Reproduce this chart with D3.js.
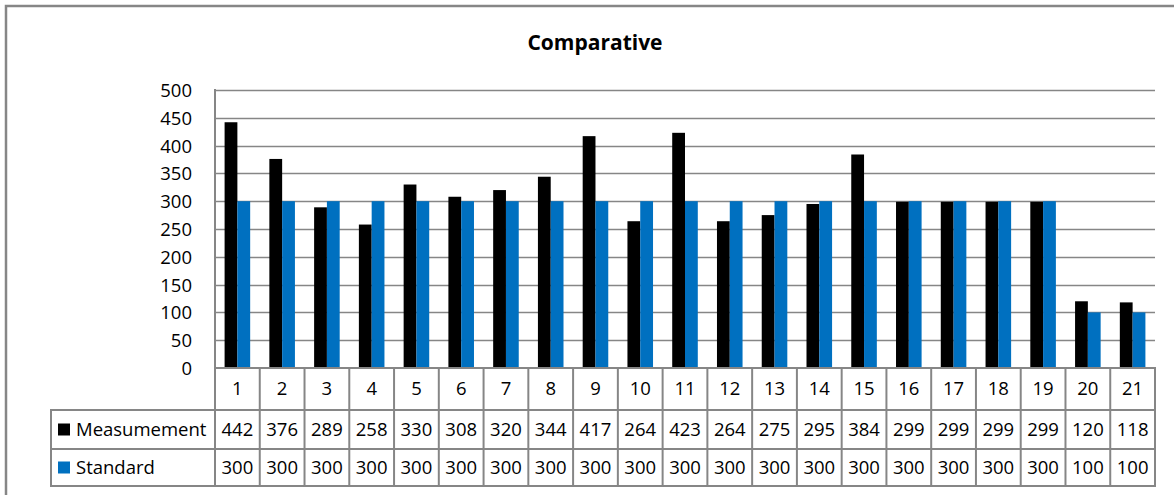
<!DOCTYPE html>
<html>
<head>
<meta charset="utf-8">
<script src="https://cdn.jsdelivr.net/npm/d3@7"></script>
<style>
  body { margin: 0; background: #fff; }
  text { font-family: "Open Sans", Lato, sans-serif; fill: #000; }
</style>
</head>
<body>
<div id="chart"></div>
<script>
// Datos
const categories = ["1","2","3","4","5","6","7","8","9","10","11","12","13","14","15","16","17","18","19","20","21"];
const measurement = [442, 376, 289, 258, 330, 308, 320, 344, 417, 264, 423, 264, 275, 295, 384, 299, 299, 299, 299, 120, 118];
const standard = [300, 300, 300, 300, 300, 300, 300, 300, 300, 300, 300, 300, 300, 300, 300, 300, 300, 300, 300, 100, 100];
const seriesNames = ["Measumement", "Standard"];
const seriesColors = ["#000000", "#0070C0"];
const yTicks = [0, 50, 100, 150, 200, 250, 300, 350, 400, 450, 500];

const width = 1174;
const height = 495;
const plot = { left: 215, right: 1155, top: 90, bottom: 368 };
const rowH = [42, 39, 37]; // categoría, serie 1, serie 2
const legendLeft = 51;
const grid = "#868686";
const fontSize = "18.5px";

const svg = d3.select("#chart").append("svg")
    .attr("width", width)
    .attr("height", height);

// Borde exterior del gráfico (recortado a la derecha y abajo)
svg.append("path")
    .attr("d", `M6,${height + 5}V6H${width + 5}`)
    .attr("fill", "none")
    .attr("stroke", grid)
    .attr("stroke-width", 2.5);

// Título
svg.append("text")
    .attr("x", 595)
    .attr("y", 50)
    .attr("text-anchor", "middle")
    .style("font-weight", "bold")
    .style("font-size", "21px")
    .text("Comparative");

// Escalas
const x = d3.scaleBand()
    .domain(categories)
    .range([plot.left, plot.right]);

const xSub = d3.scaleBand()
    .domain(seriesNames)
    .range([0, x.bandwidth()])
    .paddingInner(0)
    .paddingOuter(0.75);

const y = d3.scaleLinear()
    .domain([0, 500])
    .range([plot.bottom, plot.top]);

// Líneas de cuadrícula
svg.append("g")
    .selectAll("line")
    .data(yTicks.filter(d => d > 0))
    .enter()
    .append("line")
    .attr("x1", plot.left)
    .attr("x2", plot.right)
    .attr("y1", d => Math.round(y(d)) + 0.5)
    .attr("y2", d => Math.round(y(d)) + 0.5)
    .attr("stroke", grid)
    .attr("stroke-width", 1.5);

// Barras
const rows = categories.map((c, i) => ({ cat: c, values: [measurement[i], standard[i]] }));
const groups = svg.append("g")
    .selectAll("g")
    .data(rows)
    .enter()
    .append("g")
    .attr("transform", d => `translate(${x(d.cat)},0)`);

groups.selectAll("rect")
    .data(d => d.values.map((v, k) => ({ name: seriesNames[k], value: v, color: seriesColors[k] })))
    .enter()
    .append("rect")
    .attr("x", d => xSub(d.name))
    .attr("width", xSub.bandwidth())
    .attr("y", d => y(d.value))
    .attr("height", d => y(0) - y(d.value))
    .attr("fill", d => d.color);

// Eje Y (solo etiquetas)
const yAxis = svg.append("g")
    .attr("transform", `translate(${plot.left},0)`)
    .call(d3.axisLeft(y).tickValues(yTicks).tickSize(0).tickPadding(23));
yAxis.select(".domain").remove();
yAxis.selectAll("text")
    .style("font-family", "'Open Sans', Lato, sans-serif")
    .style("font-size", fontSize)
    .attr("dy", "0.35em");

// Tabla de datos
const tableTop = plot.bottom;
const rowTops = [tableTop, tableTop + rowH[0], tableTop + rowH[0] + rowH[1]];
const tableBottom = rowTops[2] + rowH[2];
const table = svg.append("g");

// Fila de categorías
table.selectAll("text.cat")
    .data(categories)
    .enter()
    .append("text")
    .attr("class", "cat")
    .attr("x", d => x(d) + x.bandwidth() / 2)
    .attr("y", rowTops[0] + rowH[0] / 2)
    .attr("dy", "0.35em")
    .attr("text-anchor", "middle")
    .style("font-size", fontSize)
    .text(d => d);

// Filas de valores
[measurement, standard].forEach((vals, k) => {
    const cy = rowTops[k + 1] + rowH[k + 1] / 2;
    table.append("g")
        .selectAll("text")
        .data(vals.map((v, i) => ({ cat: categories[i], value: v })))
        .enter()
        .append("text")
        .attr("x", d => x(d.cat) + x.bandwidth() / 2)
        .attr("y", cy)
        .attr("dy", "0.35em")
        .attr("text-anchor", "middle")
        .style("font-size", fontSize)
        .text(d => d.value);

    table.append("rect")
        .attr("x", 58)
        .attr("y", cy - 6)
        .attr("width", 12)
        .attr("height", 12)
        .attr("fill", seriesColors[k]);

    table.append("text")
        .attr("x", 76)
        .attr("y", cy)
        .attr("dy", "0.35em")
        .style("font-size", fontSize)
        .text(seriesNames[k]);
});

// Líneas de la tabla
const tableLines = [];
// horizontales
tableLines.push([plot.left, tableTop, plot.right, tableTop]);
tableLines.push([legendLeft, rowTops[1], plot.right, rowTops[1]]);
tableLines.push([legendLeft, rowTops[2], plot.right, rowTops[2]]);
tableLines.push([legendLeft, tableBottom, plot.right, tableBottom]);
// verticales
tableLines.push([plot.left, plot.top, plot.left, tableBottom]);
tableLines.push([legendLeft, rowTops[1], legendLeft, tableBottom]);
categories.forEach(c => {
    const xr = x(c) + x.bandwidth();
    tableLines.push([xr, tableTop, xr, tableBottom]);
});

table.selectAll("line")
    .data(tableLines)
    .enter()
    .append("line")
    .attr("x1", d => d[0])
    .attr("y1", d => d[1])
    .attr("x2", d => d[2])
    .attr("y2", d => d[3])
    .attr("stroke", grid)
    .attr("stroke-width", 2)
    .attr("stroke-linecap", "square");
</script>
</body>
</html>
